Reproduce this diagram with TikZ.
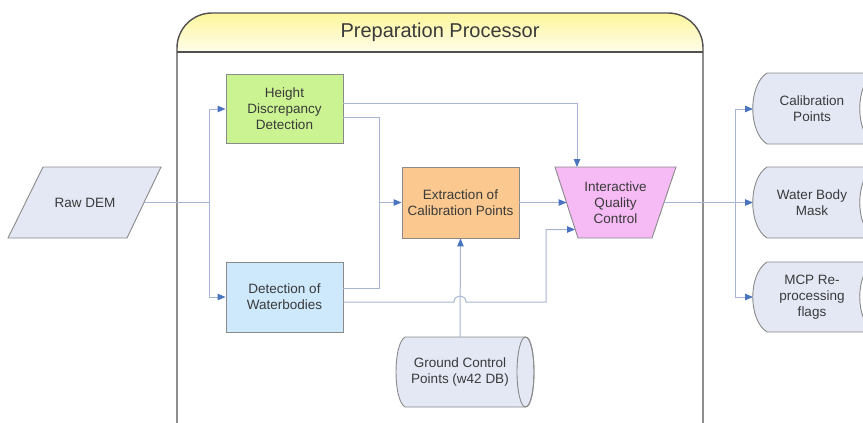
\documentclass[tikz,border=0pt]{standalone}
\usepackage{fontspec}
\setmainfont{Liberation Sans}
\usetikzlibrary{arrows.meta}
\definecolor{conn}{HTML}{A6B5D3}
\definecolor{tipc}{HTML}{4A74BE}
\definecolor{edge}{HTML}{8A8A8A}
\definecolor{txt}{HTML}{3A3A3A}
\definecolor{hddc}{HTML}{CCF392}
\definecolor{dowc}{HTML}{CDE9FB}
\definecolor{extc}{HTML}{FBC98F}
\definecolor{iqcc}{HTML}{F6BAF4}
\definecolor{datc}{HTML}{E3E8F4}
\definecolor{frame}{HTML}{505050}
\definecolor{hdrtop}{HTML}{FDF69C}
\definecolor{hdrbot}{HTML}{FFFDEB}
\tikzset{
  lbl/.style={text=txt, align=center, font=\fontsize{13.5}{16}\selectfont, inner sep=0pt},
  procbox/.style={draw=edge, line width=0.9pt, minimum width=117pt, inner sep=0pt},
  shapeline/.style={draw=edge, line width=0.9pt},
  conn/.style={draw=conn, line width=1pt},
  arr/.style={conn, -{Triangle[length=8pt,width=6.5pt,color=tipc]}},
}
\begin{document}
\begin{tikzpicture}[x=1pt,y=-1pt]
\useasboundingbox (0,0) rectangle (863,423);
\clip (0,0) rectangle (863,423);

% container
\begin{scope}
  \clip[rounded corners=35pt] (177,13) rectangle (703,480);
  \fill[top color=hdrtop, bottom color=hdrbot] (177,13) rectangle (703,52);
\end{scope}
\draw[frame, line width=1.4pt, rounded corners=35pt] (177,13) rectangle (703,480);
\draw[frame, line width=1.2pt] (177,52) -- (703,52);
\node[text=txt, font=\fontsize{20}{24}\selectfont, inner sep=0pt] (title) at (440,32.5) {Preparation Processor};

% Raw DEM parallelogram
\filldraw[shapeline, fill=datc] (43,167) -- (161,167) -- (127,238) -- (8,238) -- cycle;
\node[lbl] (raw) at (85,202.5) {Raw DEM};
\coordinate (rawE) at (144,202.5);

% process boxes
\node[procbox, fill=hddc, minimum height=69pt] (hdd) at (284.5,108.5) {};
\node[lbl] at (hdd) {Height\\Discrepancy\\Detection};
\node[procbox, fill=dowc, minimum height=70pt] (dow) at (284.5,297) {};
\node[lbl] at (dow) {Detection of\\Waterbodies};
\node[procbox, fill=extc, minimum height=71pt] (ext) at (460.5,202.5) {};
\node[lbl] at (ext) {Extraction of\\Calibration Points};

% IQC trapezoid
\filldraw[shapeline, fill=iqcc] (555,167) -- (676,167) -- (652,238) -- (578,238) -- cycle;
\node[lbl] (iqc) at (615.5,202.5) {Interactive\\Quality\\Control};

% Ground control points cylinder
\filldraw[shapeline, fill=datc] (405,337) -- (525.5,337)
  .. controls (536.8,337) and (536.8,407) .. (525.5,407) -- (405,407)
  .. controls (393,400) and (393,344) .. (405,337) -- cycle;
\draw[shapeline] (525.5,372) ellipse [x radius=8.5, y radius=35];
\node[lbl] (gcp) at (460,372) {Ground Control\\Points (w42 DB)};

% output data stores
\filldraw[shapeline, fill=datc] (767,73) -- (874,73) .. controls (855,85) and (855,132) .. (874,144) -- (767,144) .. controls (748,132) and (748,85) .. (767,73) -- cycle;
\node[lbl] (cal) at (812,108.5) {Calibration\\Points};
\filldraw[shapeline, fill=datc] (767,167) -- (874,167) .. controls (855,179) and (855,226) .. (874,238) -- (767,238) .. controls (748,226) and (748,179) .. (767,167) -- cycle;
\node[lbl] (wbm) at (812,202.5) {Water Body\\Mask};
\filldraw[shapeline, fill=datc] (767,262) -- (874,262) .. controls (855,274) and (855,320) .. (874,332) -- (767,332) .. controls (748,320) and (748,274) .. (767,262) -- cycle;
\node[lbl] (mcp) at (812,297) {MCP Re-\\processing\\flags};

% connectors
\coordinate (jA) at (209,202.5);
\draw[conn] (rawE) -- (jA);
\draw[conn] (209,109) -- (209,297);
\draw[arr] (209,109) -- (hdd.west |- 0,109);
\draw[arr] (209,297) -- (dow.west |- 0,297);

\draw[arr] (hdd.east |- 0,103) -- (577,103) -- (577,167);
\draw[conn] (hdd.east |- 0,117) -- (379,117) -- (379,288) -- (dow.east |- 0,288);
\draw[arr] (379,202.5) -- (ext.west);
\draw[arr] (ext.east) -- (566.5,202.5);
\draw[arr] (dow.east |- 0,302) -- (454,302) .. controls (454,294) and (466,294) .. (466,302) -- (546,302) -- (546,229.5) -- (575,229.5);
\draw[arr] (460,337) -- (ext.south);

\coordinate (jB) at (735,202.5);
\draw[conn] (664,202.5) -- (jB);
\draw[conn] (735,109) -- (735,297);
\draw[arr] (735,109) -- (753,109);
\draw[arr] (jB) -- (753,202.5);
\draw[arr] (735,297) -- (753,297);
\end{tikzpicture}
\end{document}
